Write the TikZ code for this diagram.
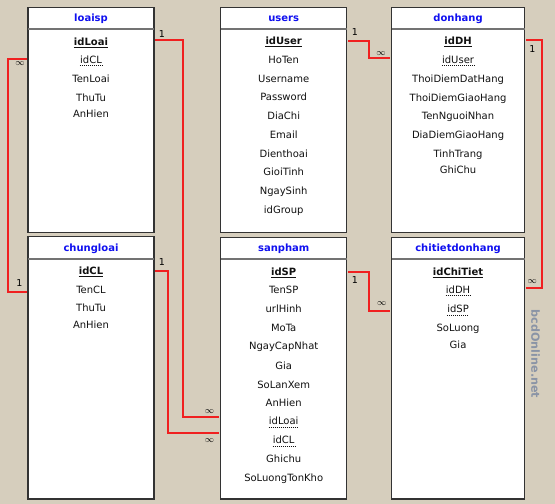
\documentclass[tikz,border=0pt]{standalone}
\usepackage{fontspec}
\setmainfont{DejaVu Sans}
\definecolor{bg}{HTML}{D6CEBD}
\definecolor{relred}{HTML}{F02020}
\definecolor{ttlblue}{HTML}{1010F0}
\definecolor{txt}{HTML}{111111}
\definecolor{wm}{HTML}{8A94A6}
\tikzset{
  tbl/.style={draw=black!80, line width=1.4pt, fill=white, inner sep=0pt, anchor=north west},
  ttl/.style={font=\fontsize{10}{11}\selectfont\bfseries, text=ttlblue, inner sep=0pt, text height=7.5pt, text depth=2pt},
  hline/.style={draw=black!55, line width=1.6pt},
  row/.style={font=\fontsize{10}{11}\selectfont, text=txt, inner sep=0pt, text height=7.5pt, text depth=1.8pt},
  plain/.style={},
  pk/.style={font=\fontsize{10}{11}\selectfont\bfseries,
    append after command={(\tikzlastnode.south west) edge[draw=txt, line width=0.9pt] (\tikzlastnode.south east)}},
  fk/.style={append after command={(\tikzlastnode.south west) edge[draw=txt, line width=0.7pt, dash pattern=on 1.2pt off 0.8pt] (\tikzlastnode.south east)}},
  rel/.style={draw=relred, line width=1.7pt},
  card/.style={font=\fontsize{9.5}{10}\selectfont, text=black, inner sep=0pt},
  inf/.style={font=\fontsize{9.5}{10}\selectfont, text=black, inner sep=0pt}
}
\begin{document}
\begin{tikzpicture}[x=1pt,y=-1pt]
\fill[bg] (0,0) rectangle (555,504);
\useasboundingbox (0,0) rectangle (555,504);

% ---------- tables ----------
\node[tbl, minimum width=126pt, minimum height=225pt] (loaisp) at (27.3,6.7) {};
\node[tbl, minimum width=126pt, minimum height=225pt] (users) at (220,6.7) {};
\node[tbl, minimum width=133.3pt, minimum height=225pt] (donhang) at (390.7,6.7) {};
\node[tbl, minimum width=126pt, minimum height=262.6pt] (chungloai) at (27.3,235.7) {};
\node[tbl, minimum width=126pt, minimum height=261.6pt] (sanpham) at (220,236.7) {};
\node[tbl, minimum width=133.3pt, minimum height=261.6pt] (chitiet) at (390.7,236.7) {};

% header separators
\foreach \t in {loaisp,users,donhang}
  \draw[hline] ([xshift=0.8pt]\t.west |- 0,29) -- ([xshift=-0.8pt]\t.east |- 0,29);
\foreach \t in {chungloai,sanpham,chitiet}
  \draw[hline] ([xshift=0.8pt]\t.west |- 0,259) -- ([xshift=-0.8pt]\t.east |- 0,259);

% titles
\node[ttl] (t-loaisp) at (loaisp.north |- 0,18.5) {loaisp};
\node[ttl] (t-users) at (users.north |- 0,18.5) {users};
\node[ttl] (t-donhang) at (donhang.north |- 0,18.5) {donhang};
\node[ttl] (t-chungloai) at (chungloai.north |- 0,248.5) {chungloai};
\node[ttl] (t-sanpham) at (sanpham.north |- 0,248.5) {sanpham};
\node[ttl] (t-chitiet) at (chitiet.north |- 0,248.5) {chitietdonhang};

% rows
\foreach \y/\n/\s in {42.3/idLoai/pk, 60.5/idCL/fk, 80/TenLoai/plain, 98.3/ThuTu/plain, 115/AnHien/plain}
  \node[row,\s] (loaisp-\n) at (loaisp.north |- 0,\y) {\n};
\foreach \y/\n/\s in {41.7/idUser/pk, 61/HoTen/plain, 80/Username/plain, 98/Password/plain, 117/DiaChi/plain, 136/Email/plain, 155/Dienthoai/plain, 173/GioiTinh/plain, 192/NgaySinh/plain, 211/idGroup/plain}
  \node[row,\s] (users-\n) at (users.north |- 0,\y) {\n};
\foreach \y/\n/\s in {42/idDH/pk, 60.5/idUser/fk, 80/ThoiDiemDatHang/plain, 98.7/ThoiDiemGiaoHang/plain, 117/TenNguoiNhan/plain, 136/DiaDiemGiaoHang/plain, 155/TinhTrang/plain, 171/GhiChu/plain}
  \node[row,\s] (donhang-\n) at (donhang.north |- 0,\y) {\n};
\foreach \y/\n/\s in {271.7/idCL/pk, 290.7/TenCL/plain, 309/ThuTu/plain, 326/AnHien/plain}
  \node[row,\s] (chungloai-\n) at (chungloai.north |- 0,\y) {\n};
\foreach \y/\n/\s in {272.3/idSP/pk, 291/TenSP/plain, 310/urlHinh/plain, 329/MoTa/plain, 347/NgayCapNhat/plain, 367/Gia/plain, 385.7/SoLanXem/plain, 404/AnHien/plain, 422/idLoai/fk, 441/idCL/fk, 460/Ghichu/plain, 479/SoLuongTonKho/plain}
  \node[row,\s] (sanpham-\n) at (sanpham.north |- 0,\y) {\n};
\foreach \y/\n/\s in {272.3/idChiTiet/pk, 290.5/idDH/fk, 310/idSP/fk, 329/SoLuong/plain, 346/Gia/plain}
  \node[row,\s] (chitiet-\n) at (chitiet.north |- 0,\y) {\n};

% ---------- relationships ----------
% loaisp.idLoai (1) -> sanpham.idLoai (inf)
\coordinate (b1) at (183,417);
\draw[rel] ([xshift=0.7pt]loaisp.east |- 0,40) -| (b1) -- ([xshift=-0.7pt]sanpham.west |- b1);
\node[card] (c1a) at (162,34) {1};
\node[inf] (c1b) at (209.5,412) {$\infty$};

% chungloai.idCL (1) -> sanpham.idCL (inf)
\coordinate (b2) at (168,433);
\draw[rel] ([xshift=0.7pt]chungloai.east |- 0,271) -| (b2) -- ([xshift=-0.7pt]sanpham.west |- b2);
\node[card] (c2a) at (162,262) {1};
\node[inf] (c2b) at (209.5,441) {$\infty$};

% chungloai.idCL (1) -> loaisp.idCL (inf)
\coordinate (b3) at (8,292);
\draw[rel] ([xshift=-0.7pt]loaisp.west |- 0,59) -| (b3) -- ([xshift=-0.7pt]chungloai.west |- b3);
\node[inf] (c3a) at (20,64) {$\infty$};
\node[card] (c3b) at (19.5,283.3) {1};

% users.idUser (1) -> donhang.idUser (inf)
\coordinate (b4) at (369,58);
\draw[rel] ([xshift=0.7pt]users.east |- 0,41) -| (b4) -- ([xshift=-0.7pt]donhang.west |- b4);
\node[card] (c4a) at (355,32) {1};
\node[inf] (c4b) at (381,53.3) {$\infty$};

% donhang.idDH (1) -> chitietdonhang.idDH (inf)
\coordinate (b5) at (542,288);
\draw[rel] ([xshift=0.7pt]donhang.east |- 0,40) -| (b5) -- ([xshift=0.7pt]chitiet.east |- b5);
\node[card] (c5a) at (532.3,49.3) {1};
\node[inf] (c5b) at (532.3,281.7) {$\infty$};

% sanpham.idSP (1) -> chitietdonhang.idSP (inf)
\coordinate (b6) at (369,311);
\draw[rel] ([xshift=0.7pt]sanpham.east |- 0,272) -| (b6) -- ([xshift=-0.7pt]chitiet.west |- b6);
\node[card] (c6a) at (355,280) {1};
\node[inf] (c6b) at (381.7,304) {$\infty$};

% watermark
\node[font=\fontsize{11.2}{13}\selectfont\bfseries, text=wm, rotate=-90, inner sep=0pt] (wmark) at (535.5,354) {bcdOnline.net};
\end{tikzpicture}
\end{document}
